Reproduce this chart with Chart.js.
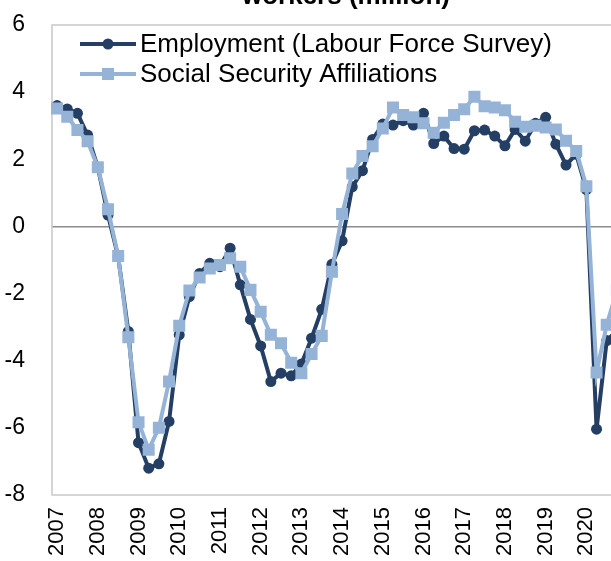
<!DOCTYPE html>
<html>
<head>
<meta charset="utf-8">
<script src="https://cdn.jsdelivr.net/npm/chart.js@4.4.1/dist/chart.umd.min.js"></script>
<style>
  html, body { margin: 0; padding: 0; background: #fff; overflow: hidden; }
  #myChart { position: absolute; left: 0; top: 0; }
</style>
</head>
<body>
<canvas id="myChart" width="632" height="561"></canvas>
<script>
var years = ['2007','2008','2009','2010','2011','2012','2013','2014','2015','2016','2017','2018','2019','2020'];
var quarters = ['Q1','Q2','Q3','Q4'];

// year-on-year change, quarterly
var employment = [
	3.60, 3.50, 3.37, 2.72,
	1.76, 0.34, -0.90, -3.13,
	-6.44, -7.20, -7.07, -5.81,
	-3.23, -2.09, -1.40, -1.10,
	-1.20, -0.65, -1.74, -2.77,
	-3.56, -4.62, -4.37, -4.45,
	-4.10, -3.33, -2.47, -1.13,
	-0.43, 1.18, 1.66, 2.59,
	3.05, 3.02, 3.15, 3.02,
	3.37, 2.47, 2.69, 2.32,
	2.30, 2.85, 2.87, 2.69,
	2.40, 2.89, 2.54, 3.07,
	3.25, 2.45, 1.83, 2.15,
	1.10, -6.04, -3.40, -3.10
];
var affiliations = [
	3.51, 3.27, 2.87, 2.54,
	1.76, 0.51, -0.88, -3.30,
	-5.83, -6.65, -6.00, -4.62,
	-2.96, -1.91, -1.52, -1.25,
	-1.15, -0.95, -1.20, -1.89,
	-2.54, -3.23, -3.48, -4.06,
	-4.37, -3.80, -3.26, -1.35,
	0.37, 1.58, 2.10, 2.39,
	2.92, 3.54, 3.32, 3.25,
	3.07, 2.79, 3.09, 3.32,
	3.49, 3.86, 3.58, 3.54,
	3.46, 3.12, 2.97, 3.00,
	2.95, 2.89, 2.55, 2.25,
	1.20, -4.35, -2.93, -1.90
];

var labels = [];
for (var y = 0; y < years.length; y++) {
	for (var q = 0; q < quarters.length; q++) {
		labels.push(years[y] + quarters[q]);
	}
}

var FONT = '"Liberation Sans", Arial, sans-serif';
var DARK = '#243f63';
var LIGHT = '#95b3d7';

// frame, cut-off title and the in-plot legend
var extras = {
	id: 'extras',
	beforeDatasetsDraw: function(chart) {
		var a = chart.chartArea, ctx = chart.ctx;
		ctx.save();
		ctx.strokeStyle = '#c8c8c8';
		ctx.lineWidth = 1.5;
		ctx.strokeRect(a.left, a.top, a.right - a.left, a.bottom - a.top);
		ctx.restore();
	},
	afterDraw: function(chart) {
		var ctx = chart.ctx;
		ctx.save();
		ctx.fillStyle = '#000';
		ctx.font = 'bold 26px ' + FONT;
		ctx.textAlign = 'center';
		ctx.textBaseline = 'alphabetic';
		ctx.fillText('workers (million)', 346, 4);

		var rows = [
			{ y: 44, ds: chart.data.datasets[0], shape: 'circle' },
			{ y: 74, ds: chart.data.datasets[1], shape: 'rect' }
		];
		rows.forEach(function(r) {
			ctx.strokeStyle = r.ds.borderColor;
			ctx.lineWidth = 4;
			ctx.beginPath();
			ctx.moveTo(80, r.y);
			ctx.lineTo(136, r.y);
			ctx.stroke();
			ctx.fillStyle = r.ds.borderColor;
			if (r.shape === 'circle') {
				ctx.beginPath();
				ctx.arc(108, r.y, 5.5, 0, Math.PI * 2);
				ctx.fill();
			} else {
				ctx.fillRect(102, r.y - 6, 12, 12);
			}
			ctx.fillStyle = '#000';
			ctx.font = '26px ' + FONT;
			ctx.textAlign = 'left';
			ctx.textBaseline = 'middle';
			ctx.fillText(r.ds.label, 140, r.y + 1);
		});
		ctx.restore();
	}
};

var ctx = document.getElementById('myChart');

var myChart = new Chart(ctx, {
	type: 'line',
	data: {
		labels: labels,
		datasets: [
			{
				label: 'Employment (Labour Force Survey)',
				data: employment,
				borderColor: DARK,
				backgroundColor: DARK,
				borderWidth: 4,
				pointStyle: 'circle',
				pointRadius: 5.5,
				pointBorderWidth: 0,
				fill: false,
				tension: 0,
				order: 1
			},
			{
				label: 'Social Security Affiliations',
				data: affiliations,
				borderColor: LIGHT,
				backgroundColor: LIGHT,
				borderWidth: 4,
				pointStyle: 'rect',
				pointRadius: 8.5,
				pointBorderWidth: 0,
				fill: false,
				tension: 0,
				order: 0
			}
		]
	},
	options: {
		responsive: false,
		animation: false,
		layout: { padding: { left: 0, top: 25, right: 10, bottom: 0 } },
		plugins: {
			legend: { display: false },
			tooltip: { enabled: false }
		},
		scales: {
			x: {
				type: 'category',
				offset: true,
				grid: { display: false, drawTicks: false },
				border: { display: false },
				ticks: {
					autoSkip: false,
					minRotation: 90,
					maxRotation: 90,
					padding: 12,
					color: '#000',
					font: { family: FONT, size: 22 },
					callback: function(value, index) {
						return index % 4 === 0 ? years[index / 4] : '';
					}
				},
				afterFit: function(scale) {
					scale.height = 66;
					scale.paddingLeft = 0;
					scale.paddingRight = 0;
				}
			},
			y: {
				min: -8,
				max: 6,
				grid: {
					drawTicks: false,
					lineWidth: 1.5,
					color: function(c) { return c.tick && c.tick.value === 0 ? '#8c8c8c' : 'rgba(0,0,0,0)'; }
				},
				border: { display: false },
				ticks: {
					stepSize: 2,
					padding: 27,
					color: '#000',
					font: { family: FONT, size: 23 }
				},
				afterFit: function(scale) {
					scale.width = 52;
					scale.paddingTop = 0;
					scale.paddingBottom = 0;
				}
			}
		}
	},
	plugins: [extras]
});
</script>
</body>
</html>
